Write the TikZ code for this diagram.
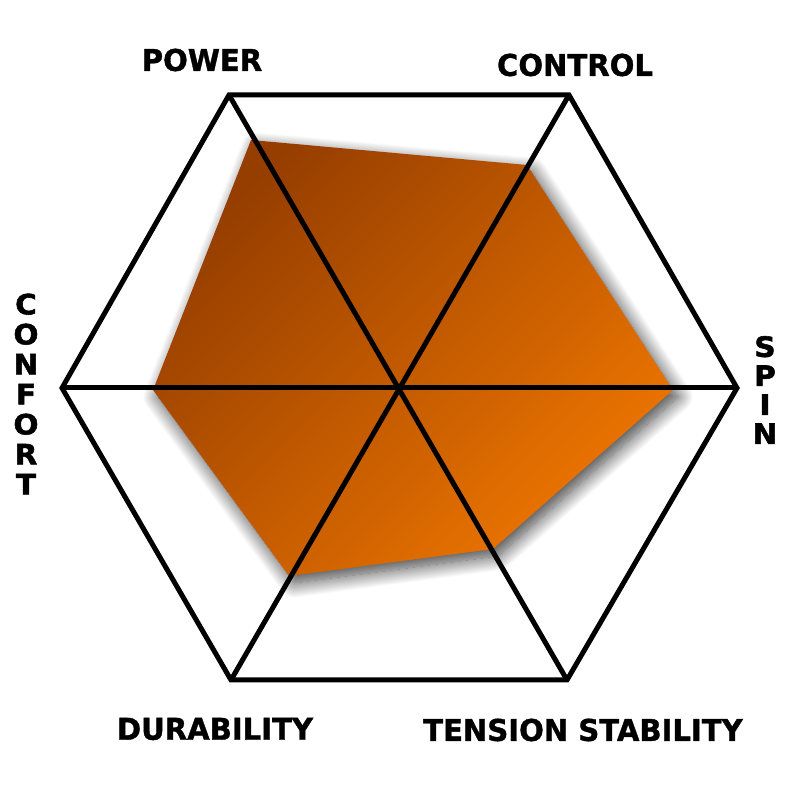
\documentclass[tikz,border=0pt]{standalone}
\usepackage{fontspec}
\newfontfamily\lab{DejaVu Sans Bold}[FakeStretch=0.97,FakeBold=1.2]
\newfontfamily\vlab{DejaVu Sans Bold}[FakeStretch=1.05,FakeBold=2]
\usetikzlibrary{shadows.blur}
\definecolor{darkor}{RGB}{150,62,0}
\definecolor{lightor}{RGB}{238,118,0}
\newcommand\vstack[2]{\vbox{\vlab\fontsize{28}{#1}\selectfont\halign{\hfil##\hfil\cr#2}}}
\begin{document}
\begin{tikzpicture}[x=1pt,y=1pt,
  grid/.style={line width=5pt, line join=miter, draw=black},
  lbl/.style={font=\lab\fontsize{30}{30}\selectfont, inner sep=0pt},
  vlbl/.style={inner sep=0pt},
  area/.style={top color=darkor, bottom color=lightor, shading angle=45,
    blur shadow={shadow xshift=5pt, shadow yshift=-7pt, shadow blur radius=15pt,
      shadow blur steps=20, shadow opacity=75}}]
\useasboundingbox (0,0) rectangle (800,800);
% hexagon vertices
\coordinate (h1) at (229,705);
\coordinate (h2) at (569,705);
\coordinate (h3) at (737,412);
\coordinate (h4) at (567,120);
\coordinate (h5) at (231,120);
\coordinate (h6) at (62,412);
% value polygon
\coordinate (p1) at (251,660);
\coordinate (p2) at (527,635);
\coordinate (p3) at (673,410);
\coordinate (p4) at (493,251);
\coordinate (p5) at (289,224);
\coordinate (p6) at (153,410);
\shade[area] (p1) -- (p2) -- (p3) -- (p4) -- (p5) -- (p6) -- cycle;
\draw[grid] (h1) -- (h2) -- (h3) -- (h4) -- (h5) -- (h6) -- cycle;
\draw[grid] (h1) -- (h4);
\draw[grid] (h2) -- (h5);
\draw[grid] (h3) -- (h6);
% labels
\node[lbl] (power) at (202,740) {POWER};
\node[lbl] (control) at (575,735) {CONTROL};
\node[lbl] (dura) at (215,71) {DURABILITY};
\node[lbl] (tens) at (583,70) {TENSION STABILITY};
\node[vlbl] (confort) at (26,406) {\vstack{30}{C\cr O\cr N\cr F\cr O\cr R\cr T\cr}};
\node[vlbl] (spin) at (765,410) {\vstack{29}{S\cr P\cr I\cr N\cr}};
\end{tikzpicture}
\end{document}
